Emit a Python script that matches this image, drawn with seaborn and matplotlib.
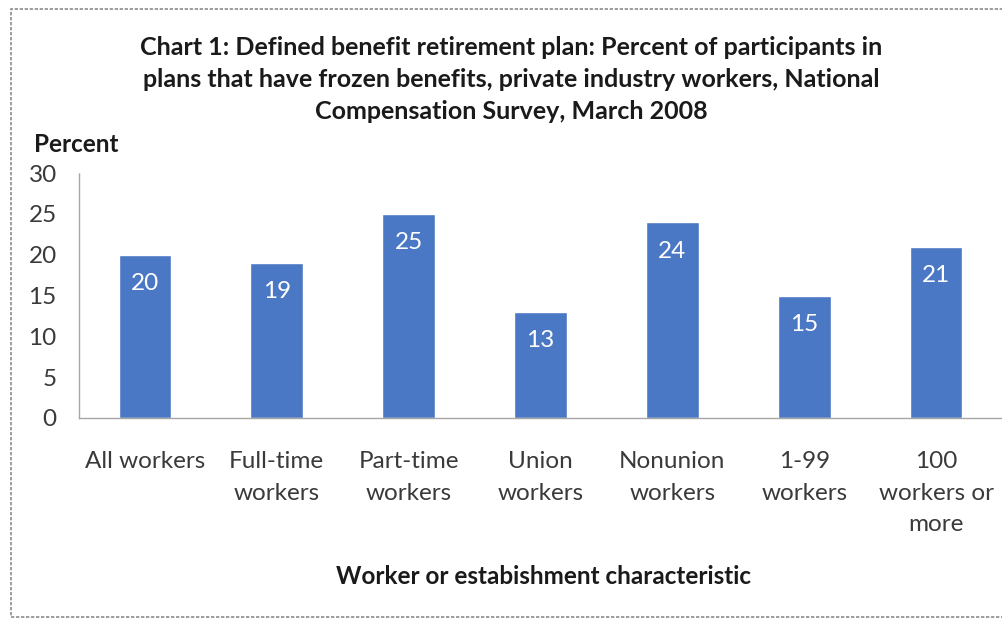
import matplotlib
matplotlib.use("Agg")
import matplotlib.pyplot as plt
from matplotlib.patches import Rectangle
import pandas as pd
import seaborn as sns

categories = ["All workers", "Full-time\nworkers", "Part-time\nworkers", "Union\nworkers",
              "Nonunion\nworkers", "1-99\nworkers", "100\nworkers or\nmore"]
percent = [20, 19, 25, 13, 24, 15, 21]
y_ticks = [0, 5, 10, 15, 20, 25, 30]

title = ("Chart 1: Defined benefit retirement plan: Percent of participants in\n"
         "plans that have frozen benefits, private industry workers, National\n"
         "Compensation Survey, March 2008")
x_title = "Worker or estabishment characteristic"
y_title = "Percent"

sns.set_style("white")
plt.rcParams["font.family"] = ["Lato", "DejaVu Sans"]

bar_color = "#4A78C4"
text_color = "#1a1a1a"
label_color = "#3a3a3a"
axis_gray = "#a6a6a6"
fs = 17.5

df = pd.DataFrame({"category": categories, "percent": percent})

fig = plt.figure(figsize=(10.03, 6.19), dpi=100)
ax = fig.add_axes([79 / 1003, 1 - 418 / 619, (1002 - 79) / 1003, (418 - 173) / 619])

sns.barplot(data=df, x="category", y="percent", color=bar_color, width=0.4,
            saturation=1, ax=ax)

ax.set_ylim(0, 30)
ax.set_yticks(y_ticks)
ax.set_xlim(-0.5, len(categories) - 0.5)

# tick marks on the category boundaries
ax.set_xticks([i - 0.5 for i in range(len(categories) + 1)], minor=True)
ax.tick_params(axis="x", which="major", length=0, pad=24, labelsize=fs, labelcolor=label_color)
ax.tick_params(axis="x", which="minor", length=5, color=axis_gray, width=1, direction="out")
ax.tick_params(axis="y", which="major", length=5, color=axis_gray, width=1, direction="out",
               labelsize=fs, labelcolor=label_color, pad=11)
for lbl in ax.get_xticklabels():
    lbl.set_verticalalignment("top")
    lbl.set_horizontalalignment("center")
    lbl.set_linespacing(1.6)

for side in ("top", "right"):
    ax.spines[side].set_visible(False)
for side in ("left", "bottom"):
    ax.spines[side].set_color(axis_gray)
    ax.spines[side].set_linestyle((0, (2, 1)))
    ax.spines[side].set_linewidth(1)

ax.set_xlabel("")
ax.set_ylabel("")

# value labels inside the top of each bar
for i, v in enumerate(percent):
    ax.annotate(str(v), xy=(i, v), xytext=(0, -29), textcoords="offset pixels",
                ha="center", va="center", color="white", fontsize=fs)

fig.text(511 / 1003, 1 - 79.5 / 619, title, ha="center", va="center", fontsize=18,
         fontweight="bold", color=text_color, linespacing=1.45)
fig.text(34 / 1003, 1 - 144 / 619, y_title, ha="left", va="center", fontsize=fs,
         fontweight="bold", color=text_color)
fig.text(543 / 1003, 1 - 577 / 619, x_title, ha="center", va="center", fontsize=fs,
         fontweight="bold", color=text_color)

# chart area frame
fig.patches.append(Rectangle((11 / 1003, 1 - 617 / 619), 1.1, (617 - 9) / 619,
                             transform=fig.transFigure, fill=False, edgecolor="#8c8c8c",
                             linestyle=(0, (2, 1)), linewidth=1.2))

fig.savefig("out.png", dpi=100)
